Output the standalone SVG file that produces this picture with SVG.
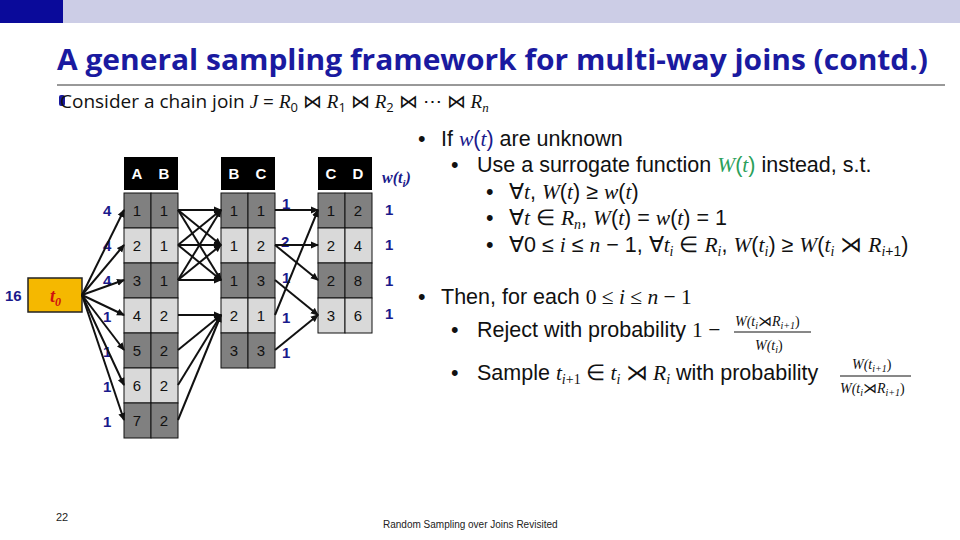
<svg xmlns="http://www.w3.org/2000/svg" width="960" height="540" viewBox="0 0 960 540">
<style>
.s{font-family:"Liberation Sans",Arial,sans-serif}
.m{font-family:"Liberation Serif","DejaVu Serif",serif;font-style:italic}
.cell{font-family:"Liberation Sans",Arial,sans-serif;font-size:15px;text-anchor:middle;fill:#111}
.hd{font-family:"Liberation Sans",Arial,sans-serif;font-size:15px;font-weight:bold;text-anchor:middle;fill:#fff}
.wt{font-family:"Liberation Sans",Arial,sans-serif;font-size:15px;font-weight:bold;fill:#1a1a8c}
.dk{fill:#808080;stroke:#111;stroke-width:1}
.lt{fill:#d9d9d9;stroke:#111;stroke-width:1}
.b{font-family:"Liberation Sans",Arial,sans-serif;font-size:21.5px;fill:#111}
.cn line{stroke:#111;stroke-width:2;marker-end:url(#ah)}
</style>
<defs>
<marker id="ah" markerWidth="8" markerHeight="8" refX="7" refY="4" orient="auto" markerUnits="userSpaceOnUse"><path d="M0,0.5 L8,4 L0,7.5z" fill="#111"/></marker>
</defs>
<rect width="960" height="540" fill="#fff"/>
<rect x="0" y="0" width="960" height="23" fill="#cccde6"/>
<rect x="0" y="0" width="63" height="23" fill="#0a0a9a"/>
<text x="57" y="70" font-family="'Open Sans','Liberation Sans',sans-serif" font-size="28" font-weight="bold" fill="#1a1aa0" textLength="871" lengthAdjust="spacingAndGlyphs">A general sampling framework for multi-way joins (contd.)</text>
<line x1="57" y1="85" x2="945" y2="85" stroke="#333" stroke-width="1"/>
<rect x="59" y="95" width="6" height="11" rx="2" fill="#1a1aa0"/>
<text x="60" y="108" font-family="'Open Sans','Liberation Sans',sans-serif" font-size="19" fill="#111">Consider a chain join <tspan class="m">J</tspan> = <tspan class="m">R</tspan><tspan font-size="13" dy="4">0</tspan><tspan dy="-4"> ⋈ </tspan><tspan class="m">R</tspan><tspan font-size="13" dy="4">1</tspan><tspan dy="-4"> ⋈ </tspan><tspan class="m">R</tspan><tspan font-size="13" dy="4">2</tspan><tspan dy="-4"> ⋈ ⋯ ⋈ </tspan><tspan class="m">R</tspan><tspan class="m" font-size="13" dy="4">n</tspan></text>

<g id="t0">
<rect x="28" y="278" width="54" height="34" fill="#f5b800" stroke="#222" stroke-width="1.5"/>
<text x="50" y="302" class="m" font-size="18" font-weight="bold" fill="#d01010">t<tspan font-size="12" dy="4">0</tspan></text>
<text x="5" y="301" class="wt">16</text>
</g>

<g id="table1">
<rect x="124" y="157" width="54" height="33" fill="#000"/>
<text x="137" y="179" class="hd">A</text><text x="164" y="179" class="hd">B</text>
<rect x="124" y="193" width="27" height="35" class="dk"/><rect x="151" y="193" width="27" height="35" class="dk"/>
<rect x="124" y="228" width="27" height="35" class="lt"/><rect x="151" y="228" width="27" height="35" class="lt"/>
<rect x="124" y="263" width="27" height="35" class="dk"/><rect x="151" y="263" width="27" height="35" class="dk"/>
<rect x="124" y="298" width="27" height="35" class="lt"/><rect x="151" y="298" width="27" height="35" class="lt"/>
<rect x="124" y="333" width="27" height="35" class="dk"/><rect x="151" y="333" width="27" height="35" class="dk"/>
<rect x="124" y="368" width="27" height="35" class="lt"/><rect x="151" y="368" width="27" height="35" class="lt"/>
<rect x="124" y="403" width="27" height="35" class="dk"/><rect x="151" y="403" width="27" height="35" class="dk"/>
<text x="137" y="216" class="cell">1</text><text x="164" y="216" class="cell">1</text>
<text x="137" y="251" class="cell">2</text><text x="164" y="251" class="cell">1</text>
<text x="137" y="286" class="cell">3</text><text x="164" y="286" class="cell">1</text>
<text x="137" y="321" class="cell">4</text><text x="164" y="321" class="cell">2</text>
<text x="137" y="356" class="cell">5</text><text x="164" y="356" class="cell">2</text>
<text x="137" y="391" class="cell">6</text><text x="164" y="391" class="cell">2</text>
<text x="137" y="426" class="cell">7</text><text x="164" y="426" class="cell">2</text>
<text x="103" y="216" class="wt">4</text><text x="103" y="251" class="wt">4</text><text x="103" y="286" class="wt">4</text>
<text x="103" y="322" class="wt">1</text><text x="103" y="357" class="wt">1</text><text x="103" y="392" class="wt">1</text><text x="103" y="427" class="wt">1</text>
</g>

<g id="table2">
<rect x="221" y="157" width="54" height="33" fill="#000"/>
<text x="234" y="179" class="hd">B</text><text x="261" y="179" class="hd">C</text>
<rect x="221" y="193" width="27" height="35" class="dk"/><rect x="248" y="193" width="27" height="35" class="dk"/>
<rect x="221" y="228" width="27" height="35" class="lt"/><rect x="248" y="228" width="27" height="35" class="lt"/>
<rect x="221" y="263" width="27" height="35" class="dk"/><rect x="248" y="263" width="27" height="35" class="dk"/>
<rect x="221" y="298" width="27" height="35" class="lt"/><rect x="248" y="298" width="27" height="35" class="lt"/>
<rect x="221" y="333" width="27" height="35" class="dk"/><rect x="248" y="333" width="27" height="35" class="dk"/>
<text x="234" y="216" class="cell">1</text><text x="261" y="216" class="cell">1</text>
<text x="234" y="251" class="cell">1</text><text x="261" y="251" class="cell">2</text>
<text x="234" y="286" class="cell">1</text><text x="261" y="286" class="cell">3</text>
<text x="234" y="321" class="cell">2</text><text x="261" y="321" class="cell">1</text>
<text x="234" y="356" class="cell">3</text><text x="261" y="356" class="cell">3</text>
<text x="282" y="209" class="wt">1</text><text x="281" y="247" class="wt">2</text><text x="282" y="283" class="wt">1</text>
<text x="282" y="323" class="wt">1</text><text x="282" y="358" class="wt">1</text>
</g>

<g id="table3">
<rect x="318" y="157" width="54" height="33" fill="#000"/>
<text x="331" y="179" class="hd">C</text><text x="358" y="179" class="hd">D</text>
<rect x="318" y="193" width="27" height="35" class="dk"/><rect x="345" y="193" width="27" height="35" class="dk"/>
<rect x="318" y="228" width="27" height="35" class="lt"/><rect x="345" y="228" width="27" height="35" class="lt"/>
<rect x="318" y="263" width="27" height="35" class="dk"/><rect x="345" y="263" width="27" height="35" class="dk"/>
<rect x="318" y="298" width="27" height="35" class="lt"/><rect x="345" y="298" width="27" height="35" class="lt"/>
<text x="331" y="216" class="cell">1</text><text x="358" y="216" class="cell">2</text>
<text x="331" y="251" class="cell">2</text><text x="358" y="251" class="cell">4</text>
<text x="331" y="286" class="cell">2</text><text x="358" y="286" class="cell">8</text>
<text x="331" y="321" class="cell">3</text><text x="358" y="321" class="cell">6</text>
<text x="382" y="183" class="m" font-size="16" font-weight="bold" fill="#1a1a8c">w(t<tspan font-size="11" dy="4">i</tspan><tspan dy="-4">)</tspan></text>
<text x="385" y="215" class="wt">1</text><text x="385" y="250" class="wt">1</text><text x="385" y="286" class="wt">1</text><text x="385" y="319" class="wt">1</text>
</g>

<g id="connectors" class="cn">
<line x1="82" y1="295" x2="124" y2="210"/>
<line x1="82" y1="295" x2="124" y2="245"/>
<line x1="82" y1="295" x2="124" y2="280"/>
<line x1="82" y1="295" x2="124" y2="315"/>
<line x1="82" y1="295" x2="124" y2="350"/>
<line x1="82" y1="295" x2="124" y2="385"/>
<line x1="82" y1="295" x2="124" y2="420"/>
<line x1="178" y1="210" x2="221" y2="210"/>
<line x1="178" y1="210" x2="221" y2="245"/>
<line x1="178" y1="210" x2="221" y2="280"/>
<line x1="178" y1="245" x2="221" y2="210"/>
<line x1="178" y1="245" x2="221" y2="245"/>
<line x1="178" y1="245" x2="221" y2="280"/>
<line x1="178" y1="280" x2="221" y2="210"/>
<line x1="178" y1="280" x2="221" y2="245"/>
<line x1="178" y1="280" x2="221" y2="280"/>
<line x1="178" y1="315" x2="221" y2="315"/>
<line x1="178" y1="350" x2="221" y2="315"/>
<line x1="178" y1="385" x2="221" y2="315"/>
<line x1="178" y1="420" x2="221" y2="315"/>
<line x1="275" y1="210" x2="318" y2="210"/>
<line x1="275" y1="245" x2="318" y2="245"/>
<line x1="275" y1="245" x2="318" y2="280"/>
<line x1="275" y1="280" x2="318" y2="315"/>
<line x1="275" y1="315" x2="318" y2="210"/>
<line x1="275" y1="350" x2="318" y2="315"/>
</g>

<g id="text">
<text x="418" y="146" class="b">•</text>
<text x="441" y="146" class="b">If <tspan class="m" fill="#1a1a8c">w</tspan><tspan fill="#1a1a8c">(</tspan><tspan class="m" fill="#1a1a8c">t</tspan><tspan fill="#1a1a8c">)</tspan> are unknown</text>
<text x="451" y="172" class="b">•</text>
<text x="477" y="172" class="b">Use a surrogate function <tspan class="m" fill="#2aa05a">W</tspan><tspan fill="#2aa05a">(</tspan><tspan class="m" fill="#2aa05a">t</tspan><tspan fill="#2aa05a">)</tspan> instead, s.t.</text>
<text x="486" y="199" class="b">•</text>
<text x="509" y="199" class="b" font-family="Liberation Serif">∀<tspan class="m">t</tspan>, <tspan class="m">W</tspan>(<tspan class="m">t</tspan>) ≥ <tspan class="m">w</tspan>(<tspan class="m">t</tspan>)</text>
<text x="486" y="225" class="b">•</text>
<text x="509" y="225" class="b" font-family="Liberation Serif">∀<tspan class="m">t</tspan> ∈ <tspan class="m">R</tspan><tspan class="m" font-size="14" dy="4">n</tspan><tspan dy="-4">, </tspan><tspan class="m">W</tspan>(<tspan class="m">t</tspan>) = <tspan class="m">w</tspan>(<tspan class="m">t</tspan>) = 1</text>
<text x="486" y="252" class="b">•</text>
<text x="509" y="252" class="b" font-family="Liberation Serif">∀0 ≤ <tspan class="m">i</tspan> ≤ <tspan class="m">n</tspan> − 1, ∀<tspan class="m">t</tspan><tspan class="m" font-size="14" dy="4">i</tspan><tspan dy="-4"> ∈ </tspan><tspan class="m">R</tspan><tspan class="m" font-size="14" dy="4">i</tspan><tspan dy="-4">, </tspan><tspan class="m">W</tspan>(<tspan class="m">t</tspan><tspan class="m" font-size="14" dy="4">i</tspan><tspan dy="-4">) ≥ </tspan><tspan class="m">W</tspan>(<tspan class="m">t</tspan><tspan class="m" font-size="14" dy="4">i</tspan><tspan dy="-4"> ⋊ </tspan><tspan class="m">R</tspan><tspan class="m" font-size="14" dy="4">i</tspan><tspan font-size="14">+1</tspan><tspan dy="-4">)</tspan></text>
<text x="418" y="304" class="b">•</text>
<text x="441" y="304" class="b">Then, for each <tspan font-family="Liberation Serif">0 ≤ <tspan class="m">i</tspan> ≤ <tspan class="m">n</tspan> − 1</tspan></text>
<text x="451" y="337" class="b">•</text>
<text x="477" y="337" class="b">Reject with probability <tspan font-family="Liberation Serif">1 −</tspan></text>
<text x="735" y="326" class="m" font-size="14" fill="#111">W(t<tspan font-size="10" dy="3">i</tspan><tspan dy="-3" font-style="normal">⋊</tspan>R<tspan font-size="10" dy="3">i+1</tspan><tspan dy="-3" font-style="normal">)</tspan></text>
<line x1="734" y1="332" x2="811" y2="332" stroke="#111" stroke-width="1"/>
<text x="755" y="350" class="m" font-size="14" fill="#111">W(t<tspan font-size="10" dy="3">i</tspan><tspan dy="-3" font-style="normal">)</tspan></text>
<text x="451" y="380" class="b">•</text>
<text x="477" y="380" class="b">Sample <tspan class="m" font-family="Liberation Serif">t</tspan><tspan class="m" font-family="Liberation Serif" font-size="14" dy="4">i</tspan><tspan font-family="Liberation Serif" font-size="14">+1</tspan><tspan dy="-4" font-family="Liberation Serif"> ∈ </tspan><tspan class="m">t</tspan><tspan class="m" font-size="14" dy="4">i</tspan><tspan dy="-4" font-family="Liberation Serif"> ⋊ </tspan><tspan class="m">R</tspan><tspan class="m" font-size="14" dy="4">i</tspan><tspan dy="-4"> with probability</tspan></text>
<text x="852" y="369" class="m" font-size="14" fill="#111">W(t<tspan font-size="10" dy="3">i+1</tspan><tspan dy="-3" font-style="normal">)</tspan></text>
<line x1="840" y1="376" x2="911" y2="376" stroke="#111" stroke-width="1"/>
<text x="840" y="393" class="m" font-size="14" fill="#111">W(t<tspan font-size="10" dy="3">i</tspan><tspan dy="-3" font-style="normal">⋊</tspan>R<tspan font-size="10" dy="3">i+1</tspan><tspan dy="-3" font-style="normal">)</tspan></text>
<text x="56" y="521" class="s" font-size="11" fill="#222">22</text>
<text x="383" y="528" class="s" font-size="10" fill="#222">Random Sampling over Joins Revisited</text>
</g>
</svg>
